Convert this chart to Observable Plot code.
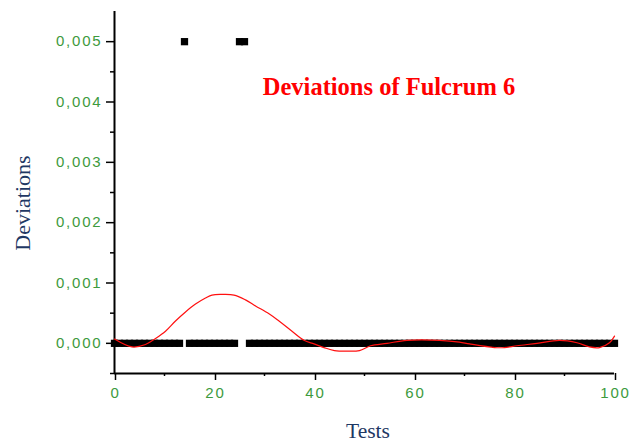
<!DOCTYPE html>
<html><head><meta charset="utf-8">
<script src="https://cdn.jsdelivr.net/npm/d3@7"></script>
<script src="https://cdn.jsdelivr.net/npm/@observablehq/plot@0.6"></script>
<style>
body{margin:0;background:#fff;}
#wrap{width:640px;height:443px;}
#wrap g[aria-label="y-axis tick label"] text,
#wrap g[aria-label="x-axis tick label"] text{letter-spacing:1.8px;}
</style></head><body>
<div id="wrap"></div>
<script>
// Measured deviations per test (0..100): almost all zero, three at 0.005
const deviations = [
  0,0,0,0,0,0,0,0,0,0,
  0,0,0,0,0.005,0,0,0,0,0,
  0,0,0,0,0,0.005,0.005,0,0,0,
  0,0,0,0,0,0,0,0,0,0,
  0,0,0,0,0,0,0,0,0,0,
  0,0,0,0,0,0,0,0,0,0,
  0,0,0,0,0,0,0,0,0,0,
  0,0,0,0,0,0,0,0,0,0,
  0,0,0,0,0,0,0,0,0,0,
  0,0,0,0,0,0,0,0,0,0,
  0
];
const tests = deviations.map((_, i) => i);

// Red smoothed curve
const fitTests  = [0, 3.5, 6.2, 8.2, 10.2, 12.2, 14.2, 16.2, 18.2, 19.5, 21.5, 23.9, 26.2, 28.2, 30.9, 32.9, 35.5, 37.9, 39.9, 41.9, 44, 46.5, 49, 51.2, 54.5, 58.5, 65, 69, 71, 76, 78, 80.5, 84.5, 89, 92.5, 95, 97, 99, 100];
const fitValues = [0.00007, -0.00006, -0.00002, 0.00008, 0.0002, 0.00037, 0.00052, 0.00065, 0.00075, 0.0008, 0.00081, 0.0008, 0.00072, 0.00062, 0.00049, 0.00037, 0.0002, 0.00005, -0.00001, -0.00007, -0.00012, -0.00013, -0.00012, -0.00004, 0, 0.00005, 0.00005, 0.00002, -0.00001, -0.00007, -0.00007, -0.00004, 0, 0.00005, 0.00001, -0.00006, -0.00007, 0.00001, 0.00012];

const yMajor = [0, 0.001, 0.002, 0.003, 0.004, 0.005];
const yMinor = [-0.0005, 0.0005, 0.0015, 0.0025, 0.0035, 0.0045];
const xMajor = [0, 20, 40, 60, 80, 100];
const xMinor = [10, 30, 50, 70, 90];

const points = tests.map((t, i) => ({test: t, dev: deviations[i]}));
const fit = fitTests.map((t, i) => ({test: t, dev: fitValues[i]}));
const fmt = v => d3.format(".3f")(v).replace(".", ",");
const green = "#3d9a3d";

const chart = Plot.plot({
  width: 640,
  height: 443,
  marginLeft: 114,
  marginRight: 26,
  marginTop: 11,
  marginBottom: 70,
  style: {fontFamily: "'Liberation Sans', Arial, sans-serif", fontSize: "15px", background: "#fff"},
  x: {domain: [0, 100]},
  y: {domain: [-0.0005, 0.0055]},
  marks: [
    Plot.axisY({ticks: yMajor, tickSize: 8, tickPadding: 4, tickFormat: fmt, label: null, fill: green, stroke: "black", strokeWidth: 1.5, fontSize: 15}),
    Plot.axisY({ticks: yMinor, tickSize: 4, tickFormat: () => "", label: null, stroke: "black", strokeWidth: 1.5}),
    Plot.axisX({ticks: xMajor, tickSize: 7, tickPadding: 7, tickFormat: d => String(d), label: null, fill: green, stroke: "black", strokeWidth: 1.5, fontSize: 15, dx: 1}),
    Plot.axisX({ticks: xMinor, tickSize: 3, tickFormat: () => "", label: null, stroke: "black", strokeWidth: 1.5}),
    Plot.ruleX([0], {y1: -0.0005, y2: 0.0055, stroke: "black", strokeWidth: 2}),
    Plot.ruleY([-0.0005], {x1: 0, x2: 100, stroke: "black", strokeWidth: 2}),
    Plot.dot(points, {x: "test", y: "dev", symbol: "square", r: 4.1, fill: "black", stroke: null}),
    Plot.line(fit, {x: "test", y: "dev", stroke: "#ff1010", strokeWidth: 1.2, curve: "catmull-rom"})
  ]
});
document.getElementById("wrap").appendChild(chart);

const svg = d3.select(chart);
svg.append("text").attr("x", 389).attr("y", 95).attr("text-anchor", "middle")
  .attr("font-family", "'Liberation Serif', 'Times New Roman', serif").attr("font-weight", "bold")
  .attr("font-size", 24.5).attr("fill", "#ff0000").text("Deviations of Fulcrum 6");
svg.append("text").attr("x", 368).attr("y", 438).attr("text-anchor", "middle")
  .attr("font-family", "'Liberation Serif', 'Times New Roman', serif")
  .attr("font-size", 21.5).attr("fill", "#1f3864").text("Tests");
svg.append("text").attr("transform", "translate(30,203) rotate(-90)").attr("text-anchor", "middle")
  .attr("font-family", "'Liberation Serif', 'Times New Roman', serif")
  .attr("font-size", 22).attr("fill", "#1f3864").text("Deviations");
</script>
</body></html>
